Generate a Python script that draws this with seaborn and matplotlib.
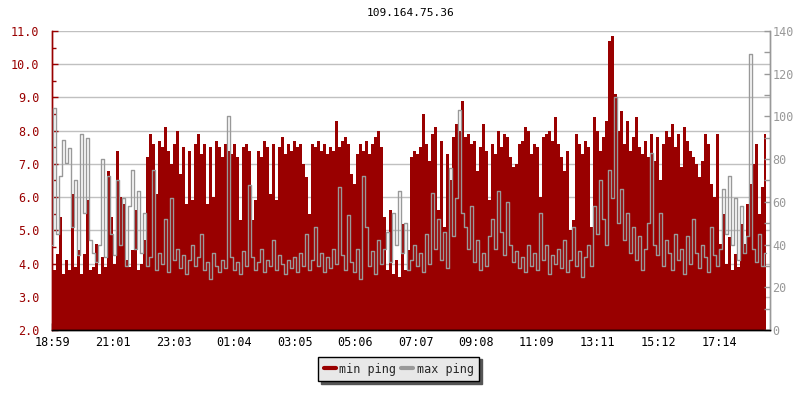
import matplotlib
matplotlib.use("Agg")
import matplotlib.pyplot as plt
from matplotlib.lines import Line2D
from matplotlib.ticker import MultipleLocator, FormatStrFormatter
import seaborn as sns
import numpy as np
import pandas as pd

# ── data (one sample every 6 min starting 18:59) ─────────────────
STEP_MIN = 6
TITLE = "109.164.75.36"
TICK_LABELS = ["18:59", "21:01", "23:03", "01:04", "03:05", "05:06",
               "07:07", "09:08", "11:09", "13:11", "15:12", "17:14"]

# min ping, left axis
min_ping = [
    4.7, 3.8, 4.3, 5.4, 3.7, 4.1, 3.8, 6.1, 3.9, 4.4, 3.7, 4.3, 5.9, 3.8, 3.9, 4.6, 3.7, 4.2, 3.9, 6.8,
    5.4, 4.0, 7.4, 6.0, 5.8, 4.1, 3.9, 4.4, 5.6, 3.8, 4.0, 4.7, 7.2, 7.9, 7.6, 6.1, 7.7, 7.5, 8.1, 7.4,
    7.0, 7.6, 8.0, 6.7, 7.5, 5.8, 7.4, 5.9, 7.6, 7.9, 7.3, 7.6, 5.8, 7.5, 6.0, 7.7, 7.5, 7.2, 7.6, 7.4,
    7.3, 7.6, 7.2, 5.3, 7.5, 7.6, 7.4, 5.3, 5.9, 7.4, 7.2, 7.7, 7.5, 6.1, 7.6, 5.9, 7.5, 7.8, 7.3, 7.6,
    7.4, 7.7, 7.5, 7.6, 7.0, 6.6, 5.5, 7.6, 7.5, 7.7, 7.4, 7.6, 7.3, 7.5, 7.4, 8.3, 7.5, 7.7, 7.8, 7.6,
    6.7, 6.4, 7.3, 7.6, 7.4, 7.7, 7.3, 7.6, 7.8, 8.0, 7.5, 5.4, 3.8, 5.6, 3.7, 4.1, 3.6, 5.2, 3.8, 4.4,
    7.2, 7.4, 7.3, 7.5, 8.5, 7.6, 7.1, 7.9, 8.1, 5.6, 7.7, 5.1, 7.3, 6.5, 7.8, 8.2, 8.0, 8.9, 7.8, 7.9,
    7.6, 7.7, 6.8, 7.5, 8.2, 7.4, 5.9, 7.6, 7.3, 8.0, 7.5, 7.9, 7.8, 7.2, 6.9, 7.0, 7.6, 7.7, 8.1, 8.0,
    7.3, 7.6, 7.5, 6.0, 7.8, 7.9, 8.0, 7.7, 8.4, 7.6, 7.2, 6.8, 7.4, 5.0, 5.3, 7.9, 7.6, 7.3, 7.7, 7.5,
    5.1, 8.4, 8.0, 7.4, 7.8, 8.3, 10.7, 10.85, 9.1, 8.0, 8.6, 7.6, 8.3, 7.4, 7.8, 8.4, 7.5, 7.3, 7.7, 7.2,
    7.9, 7.1, 7.8, 6.5, 7.6, 8.0, 7.8, 8.2, 7.5, 7.9, 6.9, 8.1, 7.7, 7.4, 7.2, 7.0, 6.6, 7.1, 7.9, 7.6,
    6.4, 6.0, 7.9, 4.6, 5.5, 4.0, 4.8, 3.8, 4.3, 3.9, 5.2, 4.6, 5.8, 6.4, 7.0, 7.6, 5.5, 6.3, 7.9,
]

# max ping, right axis
max_ping = [
    40, 104, 45, 72, 89, 78, 85, 48, 70, 35, 92, 55, 90, 42, 36, 32, 40, 80, 34, 72,
    45, 35, 70, 40, 62, 30, 58, 75, 38, 65, 36, 55, 30, 34, 75, 28, 36, 31, 52, 27,
    62, 33, 38, 29, 35, 26, 33, 40, 30, 34, 45, 28, 32, 24, 36, 30, 27, 33, 29, 100,
    34, 28, 32, 26, 37, 30, 68, 34, 28, 32, 38, 27, 33, 30, 42, 28, 35, 31, 26, 33,
    29, 34, 27, 36, 30, 45, 28, 33, 48, 30, 36, 27, 34, 29, 38, 31, 67, 35, 28, 54,
    32, 27, 38, 24, 72, 48, 30, 37, 26, 42, 31, 38, 46, 32, 55, 40, 65, 36, 50, 28,
    33, 40, 30, 36, 27, 45, 31, 64, 38, 52, 33, 46, 29, 76, 44, 62, 103, 55, 48, 38,
    58, 32, 42, 28, 36, 30, 44, 52, 38, 65, 46, 35, 60, 40, 32, 37, 29, 34, 27, 40,
    30, 36, 28, 55, 33, 40, 26, 35, 31, 38, 29, 42, 27, 33, 48, 30, 37, 25, 34, 40,
    30, 58, 45, 70, 52, 40, 75, 62, 109, 50, 66, 42, 55, 36, 48, 33, 44, 28, 38, 50,
    83, 40, 35, 55, 30, 42, 36, 28, 45, 33, 38, 26, 44, 31, 52, 36, 29, 40, 34, 27,
    48, 35, 30, 38, 66, 45, 72, 40, 62, 33, 58, 36, 44, 129, 38, 32, 45, 30, 36,
]

RED = "#990000"
GRAY = "#999999"
FS = 8.5

df = pd.DataFrame({
    "t": np.arange(len(min_ping)) * STEP_MIN,
    "min_ping": min_ping,
    "max_ping": max_ping,
})


def minutes_since_start(label, start="18:59"):
    h, m = map(int, label.split(":"))
    h0, m0 = map(int, start.split(":"))
    return ((h * 60 + m) - (h0 * 60 + m0)) % 1440


tick_pos = [minutes_since_start(l) for l in TICK_LABELS]

# ── style ────────────────────────────────────────────────────────
sns.set_theme(style="white")
plt.rcParams["font.family"] = ["DejaVu Sans Mono", "DejaVu Sans"]

fig = plt.figure(figsize=(8, 4), dpi=100)
ax = fig.add_axes([0.065, 0.175, 0.897, 0.7475])
ax2 = ax.twinx()

# min ping as filled area from the axis floor
ax.fill_between(df["t"], 2.0, df["min_ping"], step="mid", color=RED, lw=0, zorder=2)
ax.set_ylim(2.0, 11.0)
ax.set_xlim(0, 1436)
ax.yaxis.set_major_locator(MultipleLocator(1.0))
ax.yaxis.set_minor_locator(MultipleLocator(0.5))
ax.yaxis.set_major_formatter(FormatStrFormatter("%.1f"))
ax.yaxis.grid(True, which="major", color="#c0c0c0", lw=1, zorder=1)
ax.set_axisbelow(True)
ax.set_xticks(tick_pos)
ax.set_xticklabels(TICK_LABELS)
ax.tick_params(axis="x", direction="in", length=5, width=1, color="black",
               labelcolor="black", pad=4, bottom=True, labelsize=FS)
ax.tick_params(axis="y", which="both", direction="in", length=4, width=1,
               color=RED, labelcolor=RED, left=True, pad=9, labelsize=FS)
ax.tick_params(axis="y", which="minor", length=3)
ax.set_xlabel("")
ax.set_ylabel("")

# max ping as a thin stepped line on the right axis
sns.lineplot(data=df, x="t", y="max_ping", ax=ax2, color=GRAY, lw=1,
             drawstyle="steps-mid", estimator=None, zorder=3)
ax2.set_ylim(0, 140)
ax2.yaxis.set_major_locator(MultipleLocator(20))
ax2.yaxis.set_minor_locator(MultipleLocator(10))
ax2.tick_params(axis="y", which="both", direction="in", length=4, width=1,
                color=GRAY, labelcolor=GRAY, right=True, pad=2, labelsize=FS)
ax2.set_ylabel("")
ax2.set_xlabel("")

for a in (ax, ax2):
    a.spines["top"].set_visible(False)
    a.spines["left"].set_color(RED)
    a.spines["right"].set_color(GRAY)
    a.spines["bottom"].set_color("black")
    for s in a.spines.values():
        s.set_linewidth(1)

ax.set_title(TITLE, fontsize=FS - 0.5, color="black", pad=11)

handles = [Line2D([0], [0], color=RED, lw=3), Line2D([0], [0], color=GRAY, lw=3)]
leg = fig.legend(handles, ["min ping", "max ping"], loc="center",
                 bbox_to_anchor=(0.4985, 0.0775), ncol=2, frameon=True,
                 fancybox=False, shadow={"color": "#555555", "alpha": 1},
                 handlelength=1.0, handletextpad=0.3, columnspacing=0.4,
                 borderpad=0.5, fontsize=FS)
leg.get_frame().set_facecolor("#e8e8e8")
leg.get_frame().set_edgecolor("black")
leg.get_frame().set_linewidth(1)

plt.savefig("out.png", dpi=100)
plt.close()
